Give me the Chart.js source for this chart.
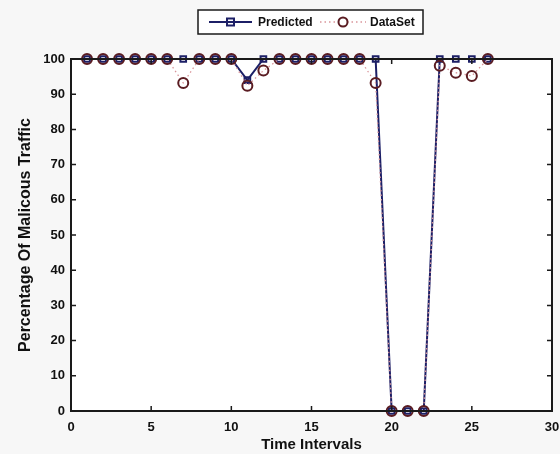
<!DOCTYPE html>
<html>
<head>
<meta charset="utf-8">
<script src="https://cdn.jsdelivr.net/npm/chart.js@4"></script>
<style>
  html, body { margin: 0; padding: 0; background: #f7f7f7; }
  canvas { display: block; }
</style>
</head>
<body>
<canvas id="c" width="560" height="454"></canvas>
<script>
// Time interval index for each sample
const intervals = [1, 2, 3, 4, 5, 6, 7, 8, 9, 10, 11, 12, 13, 14, 15, 16, 17, 18, 19, 20, 21, 22, 23, 24, 25, 26];
// Model output (%)
const predicted = [100, 100, 100, 100, 100, 100, 100, 100, 100, 100, 94, 100, 100, 100, 100, 100, 100, 100, 100, 0, 0, 0, 100, 100, 100, 100];
// Measured share of malicious traffic (%)
const dataset = [100, 100, 100, 100, 100, 100, 93.2, 100, 100, 100, 92.4, 96.7, 100, 100, 100, 100, 100, 100, 93.2, 0, 0, 0, 98.1, 96.1, 95.2, 100];
const xTicks = [0, 5, 10, 15, 20, 25, 30];
const yTicks = [0, 10, 20, 30, 40, 50, 60, 70, 80, 90, 100];
const seriesNames = ['Predicted', 'DataSet'];

const NAVY = '#1c1f66';
const MAROON = '#5a1c22';
const PINK = '#d9959a';
const AXIS = '#1a1a1a';
const FONT = '"Liberation Sans", Arial, sans-serif';

const toXY = (vals) => vals.map((v, i) => ({ x: intervals[i], y: v }));

// Plot area background, box frame, inward ticks and the boxed legend
const framePlugin = {
  id: 'frame',
  beforeDraw(chart) {
    const { ctx, chartArea: a } = chart;
    ctx.save();
    ctx.fillStyle = '#ffffff';
    ctx.fillRect(a.left, a.top, a.right - a.left, a.bottom - a.top);
    ctx.restore();
  },
  afterDatasetsDraw(chart) {
    const { ctx, chartArea: a, scales } = chart;
    ctx.save();
    ctx.strokeStyle = AXIS;
    ctx.lineWidth = 2;
    ctx.strokeRect(a.left, a.top, a.right - a.left, a.bottom - a.top);
    ctx.lineWidth = 1.5;
    const tl = 5;
    ctx.beginPath();
    xTicks.forEach(v => {
      const px = scales.x.getPixelForValue(v);
      ctx.moveTo(px, a.bottom); ctx.lineTo(px, a.bottom - tl);
      ctx.moveTo(px, a.top); ctx.lineTo(px, a.top + tl);
    });
    yTicks.forEach(v => {
      const py = scales.y.getPixelForValue(v);
      ctx.moveTo(a.left, py); ctx.lineTo(a.left + tl, py);
      ctx.moveTo(a.right, py); ctx.lineTo(a.right - tl, py);
    });
    ctx.stroke();
    ctx.restore();
  },
  afterDraw(chart) {
    const { ctx } = chart;
    ctx.save();
    // legend box
    const bx = 198, by = 10, bw = 225, bh = 24, cy = by + bh / 2;
    ctx.fillStyle = '#ffffff';
    ctx.fillRect(bx, by, bw, bh);
    ctx.strokeStyle = AXIS;
    ctx.lineWidth = 1.5;
    ctx.strokeRect(bx, by, bw, bh);

    // Predicted sample
    ctx.strokeStyle = NAVY;
    ctx.lineWidth = 2;
    ctx.beginPath(); ctx.moveTo(209, cy); ctx.lineTo(252, cy); ctx.stroke();
    ctx.strokeRect(227, cy - 3.5, 7, 7);

    // DataSet sample
    ctx.strokeStyle = PINK;
    ctx.lineWidth = 1.5;
    ctx.setLineDash([1.5, 3]);
    ctx.beginPath(); ctx.moveTo(320, cy); ctx.lineTo(366, cy); ctx.stroke();
    ctx.setLineDash([]);
    ctx.strokeStyle = MAROON;
    ctx.lineWidth = 2;
    ctx.fillStyle = '#ffffff';
    ctx.beginPath(); ctx.arc(343, cy, 4.5, 0, Math.PI * 2); ctx.fill(); ctx.stroke();

    ctx.fillStyle = '#111111';
    ctx.font = 'bold 12px ' + FONT;
    ctx.textBaseline = 'middle';
    ctx.textAlign = 'left';
    ctx.fillText(seriesNames[0], 258, cy + 0.5);
    ctx.fillText(seriesNames[1], 370, cy + 0.5);
    ctx.restore();
  }
};

new Chart(document.getElementById('c'), {
  type: 'line',
  data: {
    datasets: [
      {
        label: seriesNames[1],
        data: toXY(dataset),
        order: 0,
        borderColor: PINK,
        borderWidth: 1.3,
        borderDash: [1.5, 3],
        pointStyle: 'circle',
        pointRadius: 5,
        pointBorderWidth: 2,
        pointBorderColor: MAROON,
        pointBackgroundColor: 'rgba(0,0,0,0)',
        tension: 0,
        clip: false
      },
      {
        label: seriesNames[0],
        data: toXY(predicted),
        order: 1,
        borderColor: NAVY,
        borderWidth: 2,
        pointStyle: 'rect',
        pointRadius: 4,
        pointBorderWidth: 2,
        pointBorderColor: NAVY,
        pointBackgroundColor: 'rgba(0,0,0,0)',
        tension: 0,
        clip: false
      }
    ]
  },
  options: {
    responsive: false,
    animation: false,
    devicePixelRatio: 1,
    layout: { padding: { top: 59, right: 8, bottom: 0, left: 0 } },
    plugins: {
      legend: { display: false },
      tooltip: { enabled: false }
    },
    scales: {
      x: {
        type: 'linear',
        min: 0,
        max: 30,
        afterFit(scale) {
          scale.height = 43;
          scale.paddingLeft = 0;
          scale.paddingRight = 0;
        },
        afterBuildTicks(scale) { scale.ticks = xTicks.map(v => ({ value: v })); },
        grid: { display: false, drawTicks: false },
        border: { display: false },
        ticks: {
          padding: 9,
          color: '#111111',
          font: { family: FONT, size: 13, weight: 'bold' },
          maxRotation: 0
        },
        title: {
          display: true,
          text: 'Time Intervals',
          color: '#111111',
          padding: { top: 0, bottom: 0 },
          font: { family: FONT, size: 15, weight: 'bold' }
        }
      },
      y: {
        type: 'linear',
        min: 0,
        max: 100,
        afterFit(scale) {
          scale.width = 71;
          scale.paddingTop = 0;
          scale.paddingBottom = 0;
        },
        afterBuildTicks(scale) { scale.ticks = yTicks.map(v => ({ value: v })); },
        grid: { display: false, drawTicks: false },
        border: { display: false },
        ticks: {
          padding: 6,
          color: '#111111',
          font: { family: FONT, size: 13, weight: 'bold' }
        },
        title: {
          display: true,
          text: 'Percentage Of Malicous Traffic',
          color: '#111111',
          padding: { top: 16, bottom: 0 },
          font: { family: FONT, size: 16, weight: 'bold' }
        }
      }
    }
  },
  plugins: [framePlugin]
});
</script>
</body>
</html>
